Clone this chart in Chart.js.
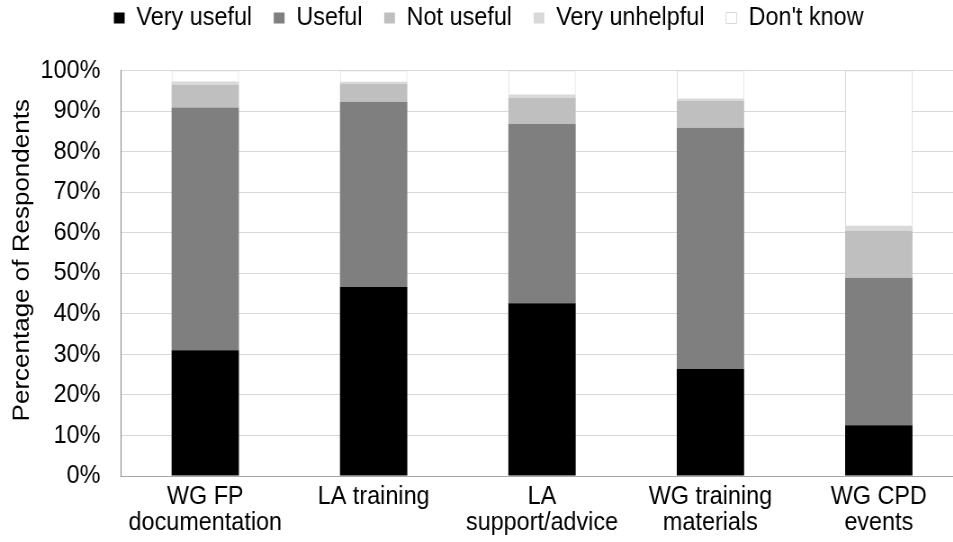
<!DOCTYPE html>
<html>
<head>
<meta charset="utf-8">
<script src="https://cdn.jsdelivr.net/npm/chart.js@4/dist/chart.umd.min.js"></script>
<style>
  html, body { margin: 0; padding: 0; background: #fff; overflow: hidden; width: 953px; height: 542px; }
  #wrap { position: absolute; left: 0; top: 0; width: 1070px; height: 542px; transform: scaleX(0.9); transform-origin: 0 0; }
</style>
</head>
<body>
<div id="wrap"><canvas id="c"></canvas></div>
<script>
const categories = [['WG FP', 'documentation'], 'LA training', ['LA', 'support/advice'], ['WG training', 'materials'], ['WG CPD', 'events']];
const seriesNames = ['Very useful', 'Useful', 'Not useful', 'Very unhelpful', "Don't know"];
const veryUseful    = [31.0, 46.6, 42.6, 26.4, 12.5];
const useful        = [59.9, 45.7, 44.2, 59.5, 36.4];
const notUseful     = [5.6, 4.4, 6.5, 6.6, 11.5];
const veryUnhelpful = [0.8, 0.5, 0.8, 0.6, 1.3];
const dontKnow      = [2.7, 2.8, 5.9, 6.9, 38.3];
const yTicks = [0, 10, 20, 30, 40, 50, 60, 70, 80, 90, 100];

const FONT = "'Liberation Sans', Arial, sans-serif";
const colors = ['#000000', '#7f7f7f', '#bfbfbf', '#d9d9d9', '#ffffff'];
const values = [veryUseful, useful, notUseful, veryUnhelpful, dontKnow];

const datasets = seriesNames.map((name, i) => ({
  label: name,
  data: values[i],
  backgroundColor: colors[i],
  borderColor: i === 4 ? '#d9d9d9' : colors[i],
  borderWidth: i === 4 ? 1 : 0,
  barPercentage: 0.40,
  categoryPercentage: 1.0
}));

const layoutTweak = {
  id: 'layoutTweak',
  beforeInit(chart) {
    const origFit = chart.legend.fit;
    chart.legend.fit = function () {
      origFit.call(this);
      this.height += 10.5;
    };
  },
  afterLayout(chart) {
    const lg = chart.legend;
    lg.top -= 19; lg.bottom -= 19;
    lg.left += 8; lg.right += 8;
  },
  beforeDraw(chart) {
    const s = chart.scales.y;
    if (s && !s._titlePatched) {
      const orig = s.drawTitle;
      s.drawTitle = function () {
        this.ctx.save();
        this.ctx.translate(0, -13);
        orig.call(this);
        this.ctx.restore();
      };
      s._titlePatched = true;
    }
  }
};

new Chart(document.getElementById('c'), {
  type: 'bar',
  data: { labels: categories, datasets },
  plugins: [layoutTweak],
  options: {
    responsive: true,
    maintainAspectRatio: false,
    animation: false,
    devicePixelRatio: 1,
    layout: { padding: { left: 0, right: 0, top: 0, bottom: 0 } },
    plugins: {
      tooltip: { enabled: false },
      legend: {
        position: 'top',
        labels: {
          font: { family: FONT, size: 26 },
          color: '#000',
          boxWidth: 12,
          boxHeight: 11,
          padding: 24
        }
      }
    },
    scales: {
      x: {
        stacked: true,
        grid: { display: false, drawTicks: false },
        border: { display: true, color: '#a6a6a6', width: 1 },
        ticks: {
          font: { family: FONT, size: 26, lineHeight: 1.0 },
          color: '#000',
          padding: 8,
          maxRotation: 0,
          autoSkip: false
        },
        afterFit(scale) { scale.height = 66; }
      },
      y: {
        stacked: true,
        min: 0,
        max: 100,
        afterBuildTicks(scale) { scale.ticks = yTicks.map(v => ({ value: v })); },
        grid: { color: '#d9d9d9', lineWidth: 1, drawTicks: false },
        border: { display: true, color: '#808080', width: 1 },
        ticks: {
          font: { family: FONT, size: 26 },
          color: '#000',
          padding: 23,
          callback: v => v + '%'
        },
        title: {
          display: true,
          text: 'Percentage of Respondents',
          font: { family: FONT, size: 26 },
          color: '#000',
          padding: { top: 9, bottom: 0 }
        },
        afterFit(scale) { scale.width = 134.5; }
      }
    }
  }
});
</script>
</body>
</html>
